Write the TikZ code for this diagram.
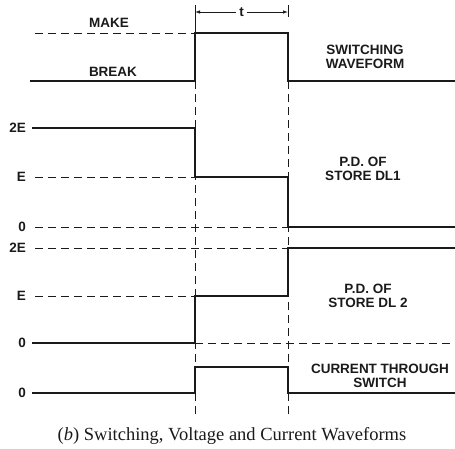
\documentclass[tikz,border=0pt]{standalone}
\usepackage{fontspec}
\setmainfont{Liberation Serif}
\newfontfamily\labelfont{Liberation Sans}
\usepackage{tikz}
\usetikzlibrary{arrows.meta}
\definecolor{ink}{HTML}{1A1A1A}
\tikzset{
  wave/.style={ink,line width=1.4pt,line join=miter},
  guide/.style={ink,line width=0.8pt,dash pattern=on 8pt off 5pt},
  tag/.style={font=\labelfont\bfseries\fontsize{13.5}{14}\selectfont,text=ink,inner sep=1pt,align=center},
}

\begin{document}
\begin{tikzpicture}[x=1pt,y=-1pt]
  \useasboundingbox (0,0) rectangle (455,448);
  % time marks
  \draw[guide] (195,81) -- (195,418);
  \draw[guide] (288,81) -- (288,418);
  \draw[ink,line width=0.9pt] (195,5) -- (195,33);
  \draw[ink,line width=0.9pt] (288,5) -- (288,17);
  \coordinate (tl) at (195,12);
  \coordinate (tr) at (288,12);
  \node[tag,fill=white,inner sep=3pt] (t) at (241.5,12) {t};
  \draw[ink,line width=0.8pt,-{Latex[length=5pt,width=3.5pt]}] (t) -- (tl);
  \draw[ink,line width=0.8pt,-{Latex[length=5pt,width=3.5pt]}] (t) -- (tr);
  % switching waveform
  \draw[guide] (35,33) -- (195,33);
  \draw[wave] (30,81) -- (195,81) -- (195,33) -- (288,33) -- (288,81) -- (455,81);
  \node[tag] (make) at (109,23) {MAKE};
  \node[tag] (break) at (113,72) {BREAK};
  \node[tag] (switching) at (365,57) {SWITCHING\\WAVEFORM};
  % store DL1
  \draw[guide] (35,177) -- (195,177);
  \draw[guide] (35,227) -- (288,227);
  \draw[wave] (32,128) -- (195,128) -- (195,177) -- (288,177) -- (288,227) -- (455,227);
  \node[tag] (dla) at (363,169) {P.D. OF\\STORE DL1};
  % store DL2
  \draw[guide] (35,248) -- (288,248);
  \draw[guide] (35,296) -- (195,296);
  \draw[guide] (195,343) -- (455,343);
  \draw[wave] (32,343) -- (195,343) -- (195,296) -- (288,296) -- (288,248) -- (455,248);
  \node[tag] (dlb) at (368,296) {P.D. OF\\STORE DL 2};
  % switch current
  \draw[wave] (32,393) -- (195,393) -- (195,367) -- (288,367) -- (288,393) -- (455,393);
  \node[tag] (current) at (380,376) {CURRENT THROUGH\\SWITCH};
  % level marks
  \foreach \lab/\y [count=\i] in {2E/128,E/177,0/227,2E/248,E/296,0/343,0/393}
    \node[tag,anchor=east] (lv\i) at (27,\y) {\lab};
  \node[font=\fontsize{18.5}{20}\selectfont,text=ink] (caption) at (232,436) {(\textit{b}) Switching, Voltage and Current Waveforms};
\end{tikzpicture}
\end{document}
